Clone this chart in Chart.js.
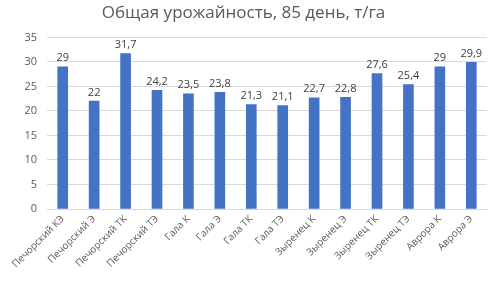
<!DOCTYPE html>
<html>
<head>
<meta charset="utf-8">
<script src="https://cdn.jsdelivr.net/npm/chart.js@4"></script>
<style>
  html, body { margin: 0; padding: 0; background: #fff; }
  #wrap { width: 489px; height: 283px; }
</style>
</head>
<body>
<div id="wrap"><canvas id="chart" width="489" height="283"></canvas></div>
<script>
const categories = [
  "Печорский КЭ", "Печорский Э", "Печорский ТК", "Печорский ТЭ",
  "Гала К", "Гала Э", "Гала ТК", "Гала ТЭ",
  "Зыренец К", "Зыренец Э", "Зыренец ТК", "Зыренец ТЭ",
  "Аврора К", "Аврора Э"
];
const yieldValues = [29, 22, 31.7, 24.2, 23.5, 23.8, 21.3, 21.1, 22.7, 22.8, 27.6, 25.4, 29, 29.9];
const yTicks = [0, 5, 10, 15, 20, 25, 30, 35];

const fmt = v => String(v).replace(".", ",");

// simple value labels above bars
const barLabels = {
  id: "barLabels",
  afterDatasetsDraw(chart) {
    const ctx = chart.ctx;
    const meta = chart.getDatasetMeta(0);
    ctx.save();
    ctx.font = "11px 'Open Sans', sans-serif";
    ctx.fillStyle = "#404040";
    ctx.textAlign = "center";
    ctx.textBaseline = "bottom";
    meta.data.forEach((bar, i) => {
      ctx.fillText(fmt(yieldValues[i]), bar.x, bar.y - 3);
    });
    ctx.restore();
  }
};

new Chart(document.getElementById("chart"), {
  type: "bar",
  data: {
    labels: categories,
    datasets: [{
      data: yieldValues,
      backgroundColor: "#4472C4",
      barThickness: 10
    }]
  },
  plugins: [barLabels],
  options: {
    responsive: false,
    animation: false,
    layout: { padding: { top: 0, right: 2, bottom: 0, left: 0 } },
    plugins: {
      legend: { display: false },
      tooltip: { enabled: false },
      title: {
        display: true,
        text: "Общая урожайность, 85 день, т/га",
        color: "#595959",
        font: { family: "'Open Sans', sans-serif", size: 17, weight: "normal" },
        padding: { top: 3, bottom: 14 }
      }
    },
    scales: {
      x: {
        grid: { display: false, drawTicks: false },
        border: { color: "#d9d9d9" },
        ticks: {
          color: "#595959",
          font: { family: "'Open Sans', sans-serif", size: 10 },
          minRotation: 45,
          maxRotation: 45,
          padding: 4
        },
        afterFit(scale) { scale.height = 74; }
      },
      y: {
        min: 0,
        max: 35,
        afterBuildTicks(scale) { scale.ticks = yTicks.map(v => ({ value: v })); },
        grid: { color: "#d9d9d9", drawTicks: false },
        border: { display: false },
        ticks: {
          color: "#595959",
          font: { family: "'Open Sans', sans-serif", size: 11 },
          padding: 10
        },
        afterFit(scale) { scale.width = 47; }
      }
    }
  }
});
</script>
</body>
</html>
